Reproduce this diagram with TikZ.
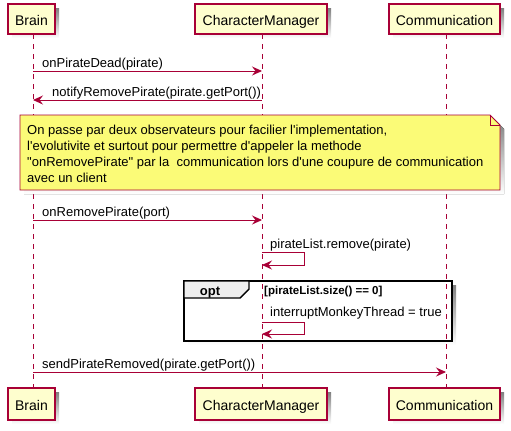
\documentclass[tikz,border=0pt]{standalone}
\usepackage{fontspec}
\setmainfont{Liberation Sans}[Ligatures=TeXOff]
\usetikzlibrary{arrows.meta}
\definecolor{pline}{HTML}{A80036}
\definecolor{pfill}{HTML}{FEFECE}
\definecolor{nfill}{HTML}{FBFB77}
\definecolor{tabfill}{HTML}{EEEEEE}
\definecolor{shade}{HTML}{B4B4B4}
\begin{document}
\begin{tikzpicture}[x=1bp,y=-1bp,
  part/.style={draw=pline, fill=pfill, line width=1.1bp, minimum height=30bp, inner sep=0pt,
    text height=15bp, text depth=2bp, font=\fontsize{14bp}{16bp}\selectfont},
  life/.style={draw=pline, line width=0.9bp, dash pattern=on 5bp off 5bp},
  msg/.style={draw=pline, line width=0.9bp, -{Stealth[length=10bp,width=9bp,inset=3.5bp]}},
  lbl/.style={anchor=base west, inner sep=0pt, font=\fontsize{13bp}{15bp}\selectfont},
  cond/.style={anchor=base west, inner sep=0pt, font=\bfseries\fontsize{11.5bp}{13bp}\selectfont},
]
\useasboundingbox (0,0) rectangle (511,430);

% participant shadows
\fill[shade] (12,8) rectangle (59,38);
\fill[shade] (199,8) rectangle (331,38);
\fill[shade] (393,8) rectangle (504,38);
\fill[shade] (12,392) rectangle (59,424);
\fill[shade] (199,392) rectangle (331,424);
\fill[shade] (393,392) rectangle (504,424);

% opt frame background and shadow
\fill[shade] (188,285) rectangle (456,345);
\fill[white] (184,281) rectangle (452,341);

% participants
\node[part, minimum width=47bp] (brainT) at (31.5,19) {Brain};
\node[part, minimum width=132bp] (cmT) at (261,19) {CharacterManager};
\node[part, minimum width=111bp] (comT) at (444.5,19) {Communication};
\node[part, minimum width=47bp, minimum height=32bp] (brainB) at (31.5,404) {Brain};
\node[part, minimum width=132bp, minimum height=32bp] (cmB) at (261,404) {CharacterManager};
\node[part, minimum width=111bp, minimum height=32bp] (comB) at (444.5,404) {Communication};

% lifelines
\coordinate (bT) at (33,34); \coordinate (bB) at (33,388);
\coordinate (cT) at (262,34); \coordinate (cB) at (262,388);
\coordinate (mT) at (446,34); \coordinate (mB) at (446,388);
\draw[life] (bT) -- (bB);
\draw[life] (cT) -- (cB);
\draw[life] (mT) -- (mB);

% message 1
\coordinate (m1a) at (33,71); \coordinate (m1b) at (262,71);
\draw[msg] (m1a) -- (m1b);
\node[lbl] (l1) at (42,67) {onPirateDead(pirate)};

% message 2
\coordinate (m2a) at (262,100); \coordinate (m2b) at (33,100);
\draw[msg] (m2a) -- (m2b);
\node[lbl] (l2) at (52,96) {notifyRemovePirate(pirate.getPort())};

% note
\fill[shade] (24,119) -- (494,119) -- (504,129) -- (504,194) -- (24,194) -- cycle;
\draw[pline, fill=nfill, line width=0.9bp] (20,115) -- (490,115) -- (500,125) -- (500,190) -- (20,190) -- cycle;
\draw[pline, line width=0.9bp] (490,115) -- (490,125) -- (500,125);
\node[lbl] (n1) at (27,134.5) {On passe par deux observateurs pour facilier l'implementation,};
\node[lbl] (n2) at (27,150.5) {l'evolutivite et surtout pour permettre d'appeler la methode};
\node[lbl] (n3) at (27,166.5) {"onRemovePirate" par la\ \ communication lors d'une coupure de communication};
\node[lbl] (n4) at (27,182.5) {avec un client};

% message 3
\coordinate (m3a) at (33,220); \coordinate (m3b) at (262,220);
\draw[msg] (m3a) -- (m3b);
\node[lbl] (l3) at (42,216) {onRemovePirate(port)};

% self message 1
\coordinate (s1a) at (262,252); \coordinate (s1b) at (304,252);
\coordinate (s1c) at (304,265); \coordinate (s1d) at (262,265);
\draw[msg] (s1a) -- (s1b) -- (s1c) -- (s1d);
\node[lbl] (l4) at (270,248) {pirateList.remove(pirate)};

% opt frame
\draw[black, line width=1.4bp] (184,281) rectangle (452,341);
\draw[black, fill=tabfill, line width=1.4bp] (184,281) -- (249,281) -- (249,289) -- (240,298) -- (184,298) -- cycle;
\node[font=\bfseries\fontsize{13bp}{15bp}\selectfont, anchor=base, inner sep=0pt] (opt) at (210,295) {opt};
\node[cond] (c1) at (264,294) {[pirateList.size() == 0]};

% self message 2
\coordinate (s2a) at (262,322); \coordinate (s2b) at (304,322);
\coordinate (s2c) at (304,334); \coordinate (s2d) at (262,334);
\draw[msg] (s2a) -- (s2b) -- (s2c) -- (s2d);
\node[lbl] (l5) at (270,316) {interruptMonkeyThread = true};

% message 4
\coordinate (m4a) at (33,372); \coordinate (m4b) at (446,372);
\draw[msg] (m4a) -- (m4b);
\node[lbl] (l6) at (42,368) {sendPirateRemoved(pirate.getPort())};
\end{tikzpicture}
\end{document}
